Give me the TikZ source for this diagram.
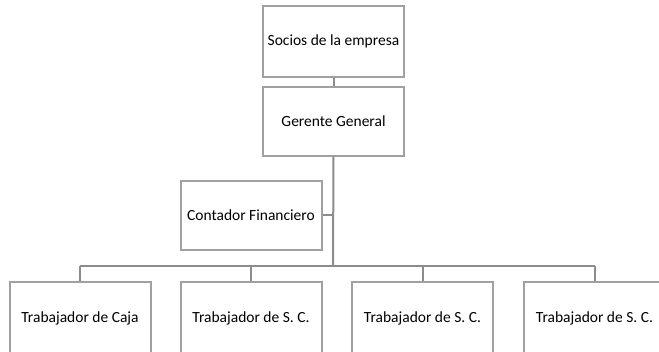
\documentclass[tikz,border=0pt]{standalone}
\usepackage{fontspec}
\setmainfont{Carlito}
\definecolor{boxgray}{RGB}{160,160,160}
\definecolor{linegray}{RGB}{140,140,140}
\begin{document}
\begin{tikzpicture}[x=1pt,y=-1pt,
  orgbox/.style={draw=boxgray,line width=2pt,fill=white,minimum width=141pt,inner sep=0pt,font=\fontsize{15.5}{18}\selectfont},
  conn/.style={draw=linegray,line width=2pt}]
\clip (0,0) rectangle (659,351);
\fill[white] (0,0) rectangle (659,351);
\node[orgbox,minimum height=71pt] (socios) at (333.5,41) {Socios de la empresa};
\node[orgbox,minimum height=69pt] (gerente) at (333.5,121) {Gerente General};
\node[orgbox,minimum height=69pt] (contador) at (251,215) {Contador Financiero};
\node[orgbox,minimum height=72pt] (b1) at (80,318) {Trabajador de Caja};
\node[orgbox,minimum height=72pt] (b2) at (251,318) {Trabajador de S. C.};
\node[orgbox,minimum height=72pt] (b3) at (422.5,318) {Trabajador de S. C.};
\node[orgbox,minimum height=72pt] (b4) at (594.5,318) {Trabajador de S. C.};
\coordinate (bar) at (333,266);
\draw[conn] (socios.south) -- (gerente.north);
\draw[conn] (gerente.south) -- (bar);
\draw[conn] (contador.east) -- (contador.east -| bar);
\draw[conn] (b1.north |- bar) -- (b4.north |- bar);
\draw[conn] (b1.north |- bar) -- (b1.north);
\draw[conn] (b2.north |- bar) -- (b2.north);
\draw[conn] (b3.north |- bar) -- (b3.north);
\draw[conn] (b4.north |- bar) -- (b4.north);
\end{tikzpicture}
\end{document}
